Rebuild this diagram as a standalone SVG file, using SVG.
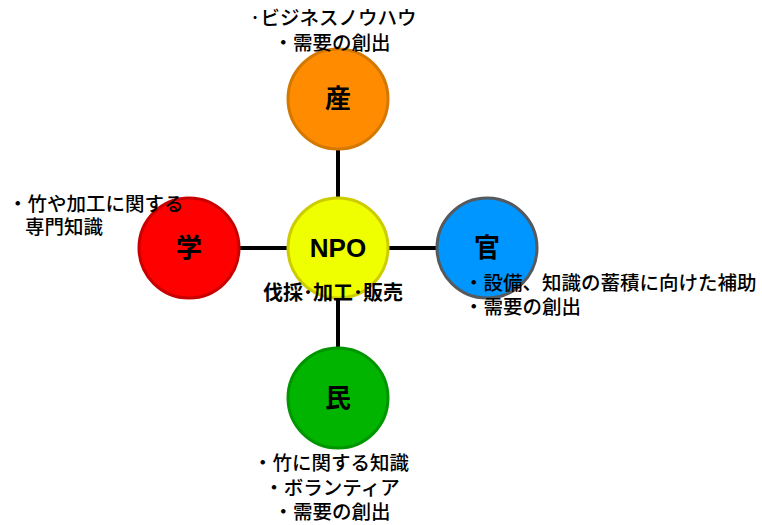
<svg xmlns="http://www.w3.org/2000/svg" width="762" height="525" viewBox="0 0 762 525">
<style>
.t{font-family:"Noto Sans CJK JP",sans-serif;font-size:19.5px;font-weight:500;fill:#000}
.c{font-family:"Liberation Sans","Noto Sans CJK JP",sans-serif;font-size:26px;font-weight:bold;fill:#000;text-anchor:middle}
.b{font-family:"Liberation Sans","Noto Sans CJK JP",sans-serif;font-size:20px;font-weight:bold;fill:#000}
.n{stroke-width:3}
</style>
<rect width="762" height="525" fill="#fff"/>
<g id="connectors" stroke="#000" stroke-width="4">
<line x1="338" y1="149" x2="338" y2="348"/>
<line x1="239" y1="248" x2="437" y2="248"/>
</g>
<g id="san">
<circle class="n" cx="338" cy="99" r="50" fill="#ff8c00" stroke="#d47800"/>
<text class="c" x="338" y="108">産</text>
<text class="t" x="333" y="25" text-anchor="middle">·ビジネスノウハウ</text>
<text class="t" x="332" y="50" text-anchor="middle">・需要の創出</text>
</g>
<g id="gaku">
<circle class="n" cx="189" cy="248" r="50" fill="#ff0000" stroke="#c80000"/>
<text class="c" x="189" y="257">学</text>
<text class="t" x="8" y="211">・竹や加工に関する</text>
<text class="t" x="25" y="234">専門知識</text>
</g>
<g id="kan">
<circle class="n" cx="487" cy="248" r="50" fill="#0096ff" stroke="#555a5f"/>
<text class="c" x="487" y="257">官</text>
<text class="t" x="464" y="290">・設備、知識の蓄積に向けた補助</text>
<text class="t" x="464" y="314">・需要の創出</text>
</g>
<g id="npo">
<circle class="n" cx="338" cy="248" r="50" fill="#f0ff00" stroke="#cccc00"/>
<text class="c" x="338" y="257">NPO</text>
<text class="b" x="263" y="300">伐採･加工･販売</text>
</g>
<g id="min">
<circle class="n" cx="338" cy="398" r="50" fill="#00b400" stroke="#009600"/>
<text class="c" x="338" y="407">民</text>
<text class="t" x="331" y="470" text-anchor="middle">・竹に関する知識</text>
<text class="t" x="332" y="495" text-anchor="middle">・ボランティア</text>
<text class="t" x="332" y="519" text-anchor="middle">・需要の創出</text>
</g>
</svg>
